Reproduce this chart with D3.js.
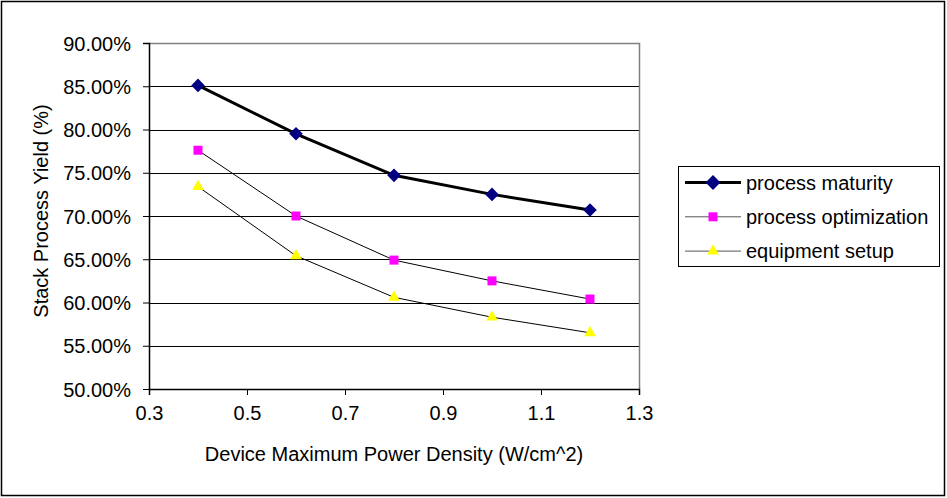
<!DOCTYPE html>
<head>
<meta charset="utf-8">
<style>
    body { margin: 0; background: #fff; }
    text { font-family: "Liberation Sans", Arial, sans-serif; fill: #000; }
    .grid line { stroke: #000; stroke-width: 1px; }
</style>
<title>Stack Process Yield</title>
</head>
<body>
<script src="https://d3js.org/d3.v7.min.js"></script>
<script>
    // data
    const powerDensity = [0.4, 0.6, 0.8, 1.0, 1.2];
    const processMaturity = [85.1, 79.5, 74.7, 72.5, 70.7];
    const processOptimization = [77.6, 70.0, 64.9, 62.5, 60.4];
    const equipmentSetup = [73.4, 65.4, 60.6, 58.3, 56.5];
    const xTicks = [0.3, 0.5, 0.7, 0.9, 1.1, 1.3];
    const yTicks = [50, 55, 60, 65, 70, 75, 80, 85, 90];
    const seriesNames = ['process maturity', 'process optimization', 'equipment setup'];

    const W = 947, H = 498;
    const margin = { top: 43, right: 308, bottom: 109, left: 149 };
    const width = W - margin.left - margin.right;
    const height = H - margin.top - margin.bottom;
    const fontSize = '20px';

    const x = d3.scaleLinear().domain([0.3, 1.3]).range([0, width]);
    const y = d3.scaleLinear().domain([50, 90]).range([height, 0]);

    const series = [
        { name: seriesNames[0], values: processMaturity, width: 3, shape: d3.symbolSquare, size: 92, rotate: 45, fill: '#000080', legendSize: 110 },
        { name: seriesNames[1], values: processOptimization, width: 1, shape: d3.symbolSquare, size: 81, rotate: 0, fill: '#ff00ff', legendSize: 81 },
        { name: seriesNames[2], values: equipmentSetup, width: 1, shape: d3.symbolTriangle, size: 60, rotate: 0, fill: '#ffff00', legendSize: 60 }
    ];

    const svg = d3.select('body').append('svg')
        .attr('width', W)
        .attr('height', H);

    // outer frame
    svg.append('rect')
        .attr('x', 1.5).attr('y', 1.5)
        .attr('width', W - 4).attr('height', H - 4)
        .attr('fill', 'none').attr('stroke', '#000').attr('stroke-width', 1.5);

    const g = svg.append('g')
        .attr('transform', `translate(${margin.left},${margin.top})`);

    // gridlines
    g.append('g').attr('class', 'grid')
        .selectAll('line')
        .data(yTicks.slice(1, -1))
        .join('line')
        .attr('x1', 0).attr('x2', width)
        .attr('y1', d => Math.round(y(d)) + 0.5).attr('y2', d => Math.round(y(d)) + 0.5);

    // plot area border (grey top/right)
    g.append('path')
        .attr('d', `M0.5,0.5H${width + 0.5}V${height}`)
        .attr('fill', 'none').attr('stroke', '#808080').attr('stroke-width', 1.5);

    // axes
    const yAxis = g.append('g')
        .call(d3.axisLeft(y).tickValues(yTicks).tickSize(6).tickPadding(12)
            .tickFormat(d => d3.format('.2f')(d) + '%'));
    const xAxis = g.append('g')
        .attr('transform', `translate(0,${height})`)
        .call(d3.axisBottom(x).tickValues(xTicks).tickSize(6).tickPadding(11)
            .tickFormat(d3.format('.1f')));
    [yAxis, xAxis].forEach(a => {
        a.select('.domain').attr('stroke', '#000').attr('stroke-width', 1.5);
        a.selectAll('.tick line').attr('stroke', '#000');
        a.selectAll('text').attr('font-size', fontSize).attr('font-family', '"Liberation Sans", Arial, sans-serif').attr('fill', '#000');
    });
    yAxis.select('.domain').attr('d', `M-6,0.5H0.5V${height}`);
    yAxis.selectAll('.tick text').attr('dy', '0.35em');

    // lines and markers
    const line = d3.line()
        .x((d, i) => x(powerDensity[i]))
        .y(d => y(d));

    series.forEach(s => {
        g.append('path')
            .datum(s.values)
            .attr('fill', 'none')
            .attr('stroke', '#000')
            .attr('stroke-width', s.width)
            .attr('d', line);
        g.append('g')
            .selectAll('path')
            .data(s.values)
            .join('path')
            .attr('transform', (d, i) => `translate(${x(powerDensity[i])},${y(d)}) rotate(${s.rotate})`)
            .attr('d', d3.symbol().type(s.shape).size(s.size))
            .attr('fill', s.fill);
    });

    // axis titles
    svg.append('text')
        .attr('x', margin.left + width / 2)
        .attr('y', 461)
        .attr('text-anchor', 'middle')
        .attr('font-size', fontSize)
        .text('Device Maximum Power Density (W/cm^2)');

    svg.append('text')
        .attr('transform', `translate(48,211) rotate(-90)`)
        .attr('text-anchor', 'middle')
        .attr('font-size', fontSize)
        .text('Stack Process Yield (%)');

    // legend
    const legend = svg.append('g').attr('transform', 'translate(678,166)');
    legend.append('rect')
        .attr('x', 0.5).attr('y', 0.5)
        .attr('width', 261).attr('height', 100)
        .attr('fill', '#fff').attr('stroke', '#000').attr('stroke-width', 1);

    series.forEach((s, i) => {
        const row = legend.append('g').attr('transform', `translate(0,${16.5 + i * 34.3})`);
        row.append('line')
            .attr('x1', 7).attr('x2', 63)
            .attr('stroke', s.width > 1 ? '#000' : '#555')
            .attr('stroke-width', s.width);
        row.append('path')
            .attr('transform', `translate(35,0) rotate(${s.rotate})`)
            .attr('d', d3.symbol().type(s.shape).size(s.legendSize))
            .attr('fill', s.fill);
        row.append('text')
            .attr('x', 68).attr('dy', '0.35em')
            .attr('font-size', fontSize)
            .text(s.name);
    });
</script>
</body>
